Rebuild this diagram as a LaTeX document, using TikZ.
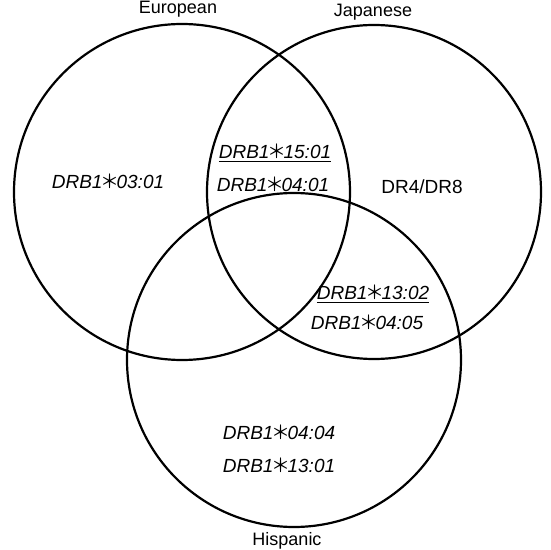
\documentclass[tikz,border=0pt]{standalone}
\usepackage{fontspec}
\setmainfont{Liberation Sans}
\newfontfamily\cjk{Noto Sans CJK JP}
\usepackage{tikz}
\usetikzlibrary{positioning}
\newcommand{\drb}[1]{\textit{DRB1\makebox[0.74em]{\cjk ＊}#1}}
\newcommand{\ulin}[1]{\setbox0\hbox{#1}\rlap{\rule[-3.2pt]{\wd0}{1.3pt}}\box0}
\tikzset{
  set/.style={circle, draw=black, line width=2.2pt, inner sep=0pt},
  grp/.style={font=\fontsize{18}{22}\selectfont, inner sep=0pt},
  alle/.style={font=\fontsize{19}{23}\selectfont, inner sep=0pt},
}

\begin{document}
\begin{tikzpicture}[x=1pt,y=1pt]
\useasboundingbox (0,0) rectangle (550,550);
\node[set, minimum size=336pt] (eur) at (182,358) {};
\node[set, minimum size=334pt] (jap) at (374,358) {};
\node[set, minimum size=334pt] (his) at (294,190) {};
\node[grp] (leur) at (178,541) {European};
\node[grp] (ljap) at (373,538) {Japanese};
\node[grp] (lhis) at (287,9) {Hispanic};
\node[alle] (a0301) at (108,369) {\drb{03:01}};
\node[alle] (a1501) at (275,397) {\ulin{\drb{15:01}}};
\node[alle] (a0401) at (273,366) {\drb{04:01}};
\node[alle] (adr) at (422,363) {DR4/DR8};
\node[alle] (a1302) at (373,256) {\ulin{\drb{13:02}}};
\node[alle] (a0405) at (367,228) {\drb{04:05}};
\node[alle] (a0404) at (279,118) {\drb{04:04}};
\node[alle] (a1301) at (279,85) {\drb{13:01}};
\end{tikzpicture}
\end{document}
